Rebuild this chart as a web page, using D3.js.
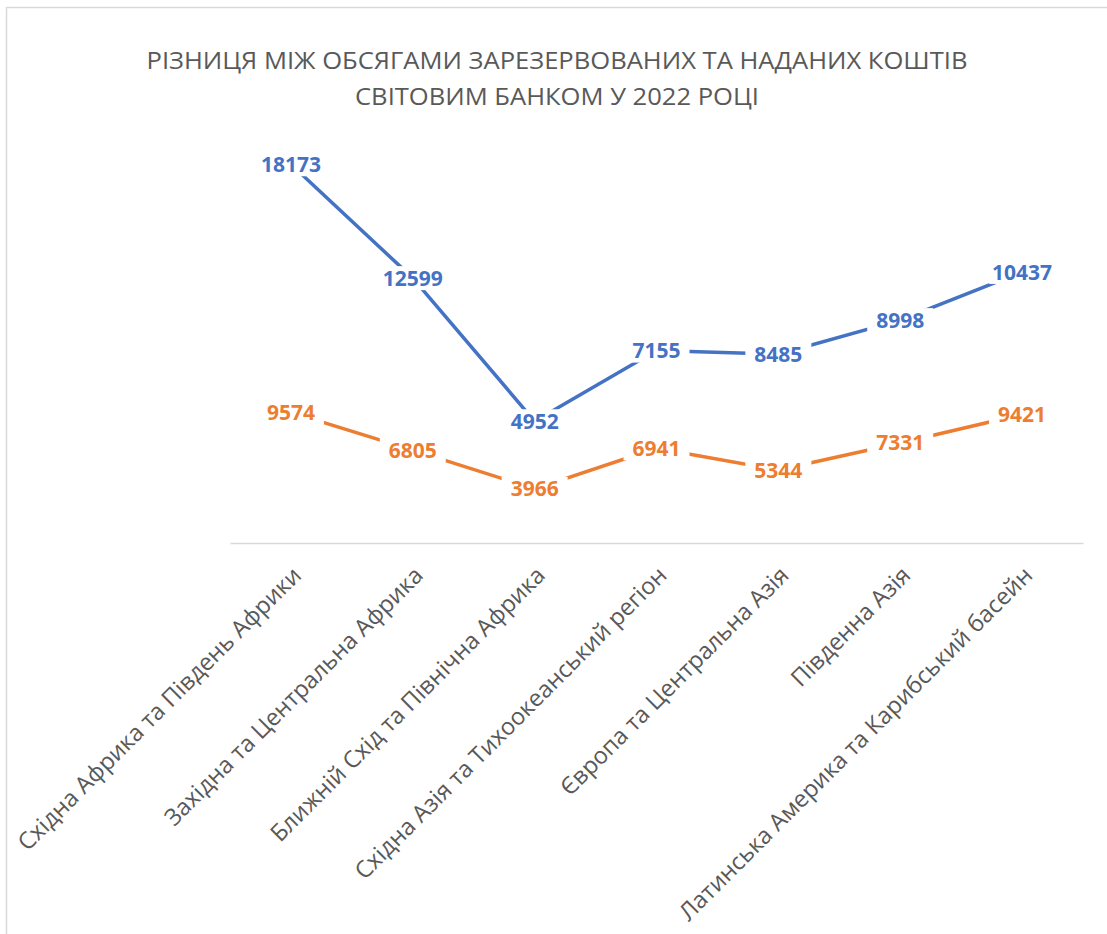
<!DOCTYPE html>
<html>
<head>
<meta charset="utf-8">
<script src="https://cdn.jsdelivr.net/npm/d3@7"></script>
<style>
  body { margin: 0; background: #fff; }
  text { font-family: "Open Sans", "Noto Sans", sans-serif; }
</style>
</head>
<body>
<div id="chart"></div>
<script>
// data
var titleLines = [
  "РІЗНИЦЯ МІЖ ОБСЯГАМИ ЗАРЕЗЕРВОВАНИХ ТА НАДАНИХ КОШТІВ",
  "СВІТОВИМ БАНКОМ У 2022 РОЦІ"
];
var regions = [
  "Східна Африка та Південь Африки",
  "Західна та Центральна Африка",
  "Ближній Схід та Північна Африка",
  "Східна Азія та Тихоокеанський регіон",
  "Європа та Центральна Азія",
  "Південна Азія",
  "Латинська Америка та Карибський басейн"
];
var orangeValues = [9574, 6805, 3966, 6941, 5344, 7331, 9421];
var blueValues = [18173, 12599, 4952, 7155, 8485, 8998, 10437];
var seriesColors = ["#ED7D31", "#4472C4"];

var width = 1107, height = 934;
var svg = d3.select("#chart").append("svg")
  .attr("width", width)
  .attr("height", height);

// chart border
svg.append("rect")
  .attr("x", 6.5).attr("y", 7.5)
  .attr("width", width).attr("height", height)
  .attr("fill", "none")
  .attr("stroke", "#d9d9d9")
  .attr("stroke-width", 1.5);

// title
svg.append("g").selectAll("text")
  .data(titleLines)
  .join("text")
  .attr("x", 557)
  .attr("y", (d, i) => 69 + i * 36)
  .attr("text-anchor", "middle")
  .attr("font-size", 24)
  .attr("fill", "#595959")
  .attr("textLength", (d, i) => i == 0 ? 821 : 404)
  .attr("lengthAdjust", "spacingAndGlyphs")
  .text(d => d);

// scales
var xScale = d3.scaleBand().domain(regions).range([230, 1083]);
var yScale = d3.scaleLinear().domain([0, 30000]).range([543, 133.5]);

// stacked line chart: orange at bottom, blue on top of it
var stack = d3.stack().keys(["orange", "blue"]);
var rows = regions.map((r, i) => ({ region: r, orange: orangeValues[i], blue: blueValues[i] }));
var stacked = stack(rows);

// x axis
var xAxis = svg.append("g")
  .attr("transform", "translate(0,543)")
  .call(d3.axisBottom(xScale).tickSize(0).tickPadding(0));
xAxis.select(".domain").attr("stroke", "#d9d9d9").attr("stroke-width", 1.5);
xAxis.selectAll(".tick text")
  .attr("font-size", 23.5)
  .attr("fill", "#595959")
  .attr("text-anchor", "end")
  .attr("transform", "translate(6,28) rotate(-45)")
  .attr("dy", "0.35em");

var line = d3.line()
  .x(d => xScale(d.data.region) + xScale.bandwidth() / 2)
  .y(d => yScale(d[1]));

svg.append("g").selectAll("path")
  .data(stacked)
  .join("path")
  .attr("d", line)
  .attr("fill", "none")
  .attr("stroke", (d, i) => seriesColors[i])
  .attr("stroke-width", 3.5)
  .attr("stroke-linejoin", "round");

// data labels with white boxes
var labelGroups = svg.append("g").selectAll("g")
  .data(stacked)
  .join("g")
  .attr("fill", (d, i) => seriesColors[i]);

var labels = labelGroups.selectAll("g")
  .data(d => d.map(p => ({ x: xScale(p.data.region) + xScale.bandwidth() / 2, y: yScale(p[1]), value: p[1] - p[0] })))
  .join("g")
  .attr("transform", d => "translate(" + d.x + "," + d.y + ")");

labels.append("rect")
  .attr("x", -33).attr("y", -12)
  .attr("width", 66).attr("height", 24)
  .attr("fill", "#fff");

labels.append("text")
  .attr("text-anchor", "middle")
  .attr("dy", "0.36em")
  .attr("font-size", 21)
  .attr("font-weight", "bold")
  .text(d => d.value);
</script>
</body>
</html>
